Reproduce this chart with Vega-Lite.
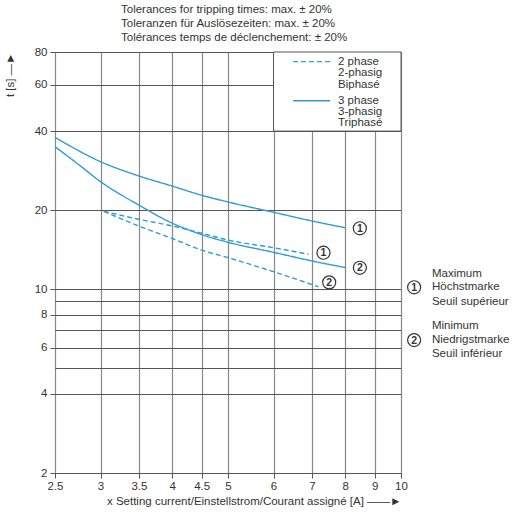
{
  "$schema": "https://vega.github.io/schema/vega-lite/v6.json",
  "width": 346,
  "height": 421,
  "autosize": {"type": "none"},
  "padding": {"left": 55, "top": 52, "right": 114, "bottom": 42},
  "background": "white",
  "config": {
    "font": "Liberation Sans",
    "view": {"stroke": "#555", "strokeWidth": 1}
  },
  "title": {
    "text": [
      "Tolerances for tripping times: max. ± 20%",
      "Toleranzen für Auslösezeiten: max. ± 20%",
      "Tolérances temps de déclenchement: ± 20%"
    ],
    "anchor": "start",
    "frame": "group",
    "dx": 66,
    "offset": 3,
    "fontSize": 11.5,
    "fontWeight": "normal",
    "color": "#333",
    "lineHeight": 14
  },
  "datasets": {
    "curves": [
      {"curve": "max3", "phase": "3 phase", "x": 2.5, "t": 37.9},
      {"curve": "max3", "phase": "3 phase", "x": 3, "t": 30.6},
      {"curve": "max3", "phase": "3 phase", "x": 3.5, "t": 27.0},
      {"curve": "max3", "phase": "3 phase", "x": 4, "t": 24.7},
      {"curve": "max3", "phase": "3 phase", "x": 4.5, "t": 22.8},
      {"curve": "max3", "phase": "3 phase", "x": 5, "t": 21.5},
      {"curve": "max3", "phase": "3 phase", "x": 6, "t": 19.64},
      {"curve": "max3", "phase": "3 phase", "x": 7, "t": 18.2},
      {"curve": "max3", "phase": "3 phase", "x": 8, "t": 17.15},
      {"curve": "min3", "phase": "3 phase", "x": 2.5, "t": 34.9},
      {"curve": "min3", "phase": "3 phase", "x": 2.75, "t": 29.8},
      {"curve": "min3", "phase": "3 phase", "x": 3, "t": 25.7},
      {"curve": "min3", "phase": "3 phase", "x": 3.5, "t": 20.9},
      {"curve": "min3", "phase": "3 phase", "x": 4, "t": 17.85},
      {"curve": "min3", "phase": "3 phase", "x": 4.5, "t": 16.15},
      {"curve": "min3", "phase": "3 phase", "x": 5, "t": 15.1},
      {"curve": "min3", "phase": "3 phase", "x": 6, "t": 13.83},
      {"curve": "min3", "phase": "3 phase", "x": 7, "t": 12.82},
      {"curve": "min3", "phase": "3 phase", "x": 8, "t": 12.1},
      {"curve": "max2", "phase": "2 phase", "x": 3.04, "t": 19.8},
      {"curve": "max2", "phase": "2 phase", "x": 3.5, "t": 18.47},
      {"curve": "max2", "phase": "2 phase", "x": 4, "t": 17.42},
      {"curve": "max2", "phase": "2 phase", "x": 4.5, "t": 16.35},
      {"curve": "max2", "phase": "2 phase", "x": 5, "t": 15.4},
      {"curve": "max2", "phase": "2 phase", "x": 6, "t": 14.4},
      {"curve": "max2", "phase": "2 phase", "x": 6.9, "t": 13.6},
      {"curve": "min2", "phase": "2 phase", "x": 3.04, "t": 19.8},
      {"curve": "min2", "phase": "2 phase", "x": 3.5, "t": 17.4},
      {"curve": "min2", "phase": "2 phase", "x": 4, "t": 15.6},
      {"curve": "min2", "phase": "2 phase", "x": 4.5, "t": 14.1},
      {"curve": "min2", "phase": "2 phase", "x": 5, "t": 13.2},
      {"curve": "min2", "phase": "2 phase", "x": 6, "t": 11.67},
      {"curve": "min2", "phase": "2 phase", "x": 7.18, "t": 10.23}
    ],
    "box": [
      {"x": 6, "x2": 10, "t": 40, "t2": 80}
    ],
    "samples": [
      {"curve": "s2", "phase": "2 phase", "x": 6.49, "t": 73.5},
      {"curve": "s2", "phase": "2 phase", "x": 7.53, "t": 73.5},
      {"curve": "s3", "phase": "3 phase", "x": 6.49, "t": 52.2},
      {"curve": "s3", "phase": "3 phase", "x": 7.53, "t": 52.2}
    ],
    "labels": [
      {"x": 7.77, "t": 73.5, "label": "2 phase"},
      {"x": 7.77, "t": 66.4, "label": "2-phasig"},
      {"x": 7.77, "t": 59.9, "label": "Biphasé"},
      {"x": 7.77, "t": 52.2, "label": "3 phase"},
      {"x": 7.77, "t": 47.4, "label": "3-phasig"},
      {"x": 7.77, "t": 42.8, "label": "Triphasé"},
      {"x": 11.32, "t": 11.43, "label": "Maximum"},
      {"x": 11.32, "t": 10.18, "label": "Höchstmarke"},
      {"x": 11.32, "t": 8.97, "label": "Seuil supérieur"},
      {"x": 11.32, "t": 7.27, "label": "Minimum"},
      {"x": 11.32, "t": 6.41, "label": "Niedrigstmarke"},
      {"x": 11.32, "t": 5.67, "label": "Seuil inférieur"}
    ],
    "marks": [
      {"x": 8.48, "t": 17.07, "n": "1"},
      {"x": 8.48, "t": 12.08, "n": "2"},
      {"x": 7.33, "t": 13.78, "n": "1"},
      {"x": 7.5, "t": 10.63, "n": "2"},
      {"x": 10.54, "t": 10.18, "n": "1"},
      {"x": 10.54, "t": 6.41, "n": "2"}
    ]
  },
  "encoding": {
    "x": {
      "field": "x",
      "type": "quantitative",
      "scale": {"type": "log", "domain": [2.5, 10], "nice": false},
      "axis": {
        "values": [2.5, 3, 3.5, 4, 4.5, 5, 6, 7, 8, 9, 10],
        "format": "~g",
        "grid": true,
        "gridColor": "#888",
        "gridWidth": 1.2,
        "domain": false,
        "tickColor": "#555",
        "tickSize": 5,
        "labelFlush": false,
        "labelOverlap": false,
        "labelBound": false,
        "labelFontSize": 11.5,
        "labelColor": "#333",
        "labelPadding": 2,
        "title": "x Setting current/Einstellstrom/Courant assigné [A]  ——►",
        "titleAnchor": "end",
        "titleFontSize": 11.5,
        "titleFontWeight": "normal",
        "titleColor": "#333",
        "titlePadding": 4
      }
    },
    "y": {
      "field": "t",
      "type": "quantitative",
      "scale": {"type": "log", "domain": [2, 80], "nice": false},
      "axis": {
        "values": [2, 4, 5, 6, 7, 8, 9, 10, 20, 40, 60, 80],
        "labelExpr": "indexof([5, 7, 9], datum.value) >= 0 ? '' : datum.label",
        "format": "~g",
        "grid": true,
        "gridColor": "#555",
        "gridWidth": 1,
        "domain": false,
        "tickColor": "#555",
        "tickOpacity": {"condition": {"test": "indexof([5, 7, 9], datum.value) >= 0", "value": 0}, "value": 1},
        "tickSize": 5,
        "labelFlush": false,
        "labelOverlap": false,
        "labelBound": false,
        "labelFontSize": 11.5,
        "labelColor": "#333",
        "labelPadding": 3,
        "title": "t [s] —►",
        "titleAnchor": "end",
        "titleAngle": -90,
        "titleAlign": "right",
        "titleBaseline": "middle",
        "titleX": -45,
        "titleY": 0,
        "titleFontSize": 11.5,
        "titleFontWeight": "normal",
        "titleColor": "#333"
      }
    }
  },
  "layer": [
    {
      "data": {"name": "curves"},
      "mark": {"type": "line", "interpolate": "monotone", "color": "#2f9bd9", "strokeWidth": 1.4},
      "encoding": {
        "detail": {"field": "curve"},
        "strokeDash": {
          "field": "phase",
          "scale": {"domain": ["2 phase", "3 phase"], "range": [[5, 3], [1, 0]]},
          "legend": null
        }
      }
    },
    {
      "data": {"name": "box"},
      "mark": {"type": "rect", "fill": "white", "stroke": "#555", "strokeWidth": 1},
      "encoding": {
        "x2": {"field": "x2"},
        "y2": {"field": "t2"}
      }
    },
    {
      "data": {"name": "samples"},
      "mark": {"type": "line", "color": "#2f9bd9", "strokeWidth": 1.4},
      "encoding": {
        "detail": {"field": "curve"},
        "strokeDash": {
          "field": "phase",
          "scale": {"domain": ["2 phase", "3 phase"], "range": [[5, 3], [1, 0]]},
          "legend": null
        }
      }
    },
    {
      "data": {"name": "labels"},
      "mark": {"type": "text", "align": "left", "baseline": "middle", "fontSize": 11.5, "color": "#333"},
      "encoding": {"text": {"field": "label"}}
    },
    {
      "data": {"name": "marks"},
      "mark": {"type": "point", "shape": "circle", "size": 170, "filled": false, "fill": "white", "fillOpacity": 1, "stroke": "#333", "strokeWidth": 1.2, "opacity": 1},
      "encoding": {}
    },
    {
      "data": {"name": "marks"},
      "mark": {"type": "text", "align": "center", "baseline": "middle", "fontSize": 10.5, "fontWeight": "bold", "color": "#333", "dy": 0.5},
      "encoding": {"text": {"field": "n"}}
    }
  ]
}
